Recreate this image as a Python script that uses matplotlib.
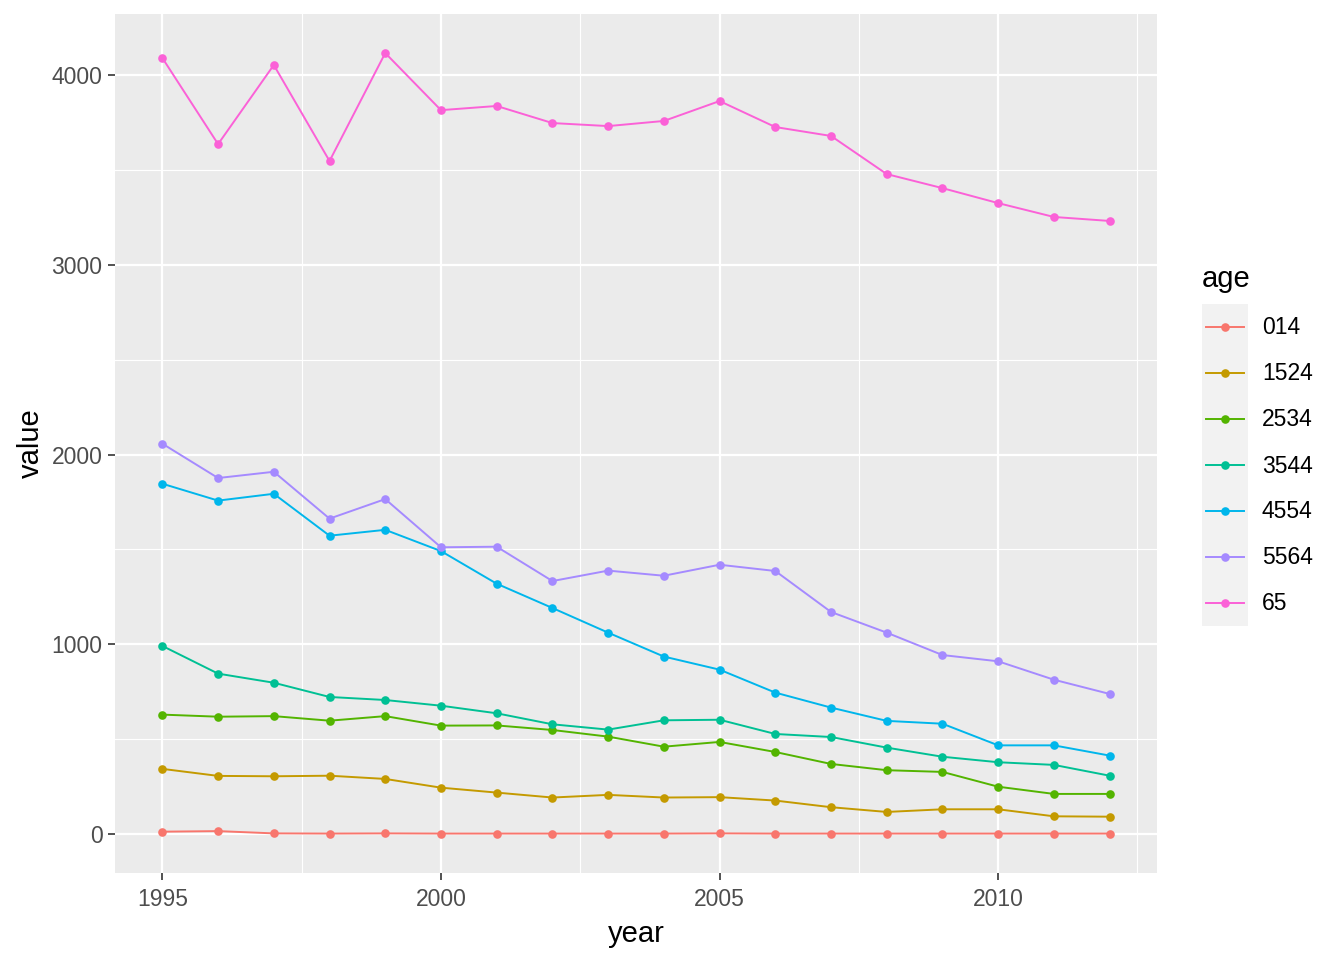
import matplotlib
matplotlib.use("Agg")
import matplotlib.pyplot as plt
from matplotlib.ticker import MultipleLocator

years = list(range(1995, 2013))
ages = ["014", "1524", "2534", "3544", "4554", "5564", "65"]
colors = ["#F8766D", "#C49A00", "#53B400", "#00C094", "#00B6EB", "#A58AFF", "#FB61D7"]

v014 = [12, 15, 3, 2, 3, 2, 2, 2, 2, 2, 3, 2, 2, 2, 2, 2, 2, 2]
v1524 = [343, 306, 304, 307, 290, 244, 218, 192, 206, 192, 194, 176, 141, 116, 130, 130, 93, 91]
v2534 = [629, 618, 621, 597, 621, 571, 572, 548, 513, 460, 485, 432, 369, 336, 327, 249, 211, 211]
v3544 = [991, 845, 797, 722, 706, 676, 636, 578, 550, 599, 602, 527, 511, 455, 407, 378, 364, 307]
v4554 = [1846, 1757, 1793, 1572, 1603, 1491, 1319, 1191, 1061, 935, 866, 745, 666, 596, 581, 467, 467, 413]
v5564 = [2057, 1876, 1909, 1662, 1765, 1511, 1514, 1333, 1388, 1361, 1419, 1386, 1170, 1061, 943, 910, 813, 738]
v65 = [4090, 3636, 4053, 3547, 4116, 3815, 3837, 3747, 3731, 3758, 3863, 3726, 3679, 3478, 3404, 3325, 3252, 3231]

series = [v014, v1524, v2534, v3544, v4554, v5564, v65]

plt.rcParams['font.family'] = ['Liberation Sans', 'DejaVu Sans']

fig = plt.figure(figsize=(13.44, 9.6), dpi=100)
ax = fig.add_axes([115/1344, (960-873)/960, (1157-115)/1344, (873-14)/960])
ax.set_facecolor("#EBEBEB")
for s in ax.spines.values():
    s.set_visible(False)

ax.set_xlim(1994.15, 2012.85)
ax.set_ylim(-205.8, 4321.8)
ax.xaxis.set_major_locator(MultipleLocator(5))
ax.xaxis.set_minor_locator(MultipleLocator(2.5))
ax.yaxis.set_major_locator(MultipleLocator(1000))
ax.yaxis.set_minor_locator(MultipleLocator(500))
ax.grid(which="major", color="white", linewidth=1.6)
ax.grid(which="minor", color="white", linewidth=0.8)
ax.set_axisbelow(True)
ax.tick_params(which="major", length=5, width=1.2, color="#333333",
               labelsize=16.5, labelcolor="#4D4D4D", pad=4)
ax.tick_params(axis="x", which="major", pad=5.5)
ax.tick_params(which="minor", length=0)

for vals, c in zip(series, colors):
    ax.plot(years, vals, color=c, linewidth=1.4, zorder=2)
for vals, c in zip(series, colors):
    ax.plot(years, vals, linestyle="none", marker="o", markersize=6.2,
            color=c, markeredgewidth=0, zorder=3)

ax.set_xlabel("year", fontsize=21, labelpad=7)
ax.set_ylabel("value", fontsize=21, labelpad=5)

# legend
lax = fig.add_axes([1202/1344, (960-626)/960, 46/1344, 322/960])
lax.set_facecolor("#F2F2F2")
for s in lax.spines.values():
    s.set_visible(False)
lax.set_xticks([])
lax.set_yticks([])
lax.set_xlim(0, 1)
lax.set_ylim(0, len(ages))
for i, (a, c) in enumerate(zip(ages, colors)):
    yc = len(ages) - 0.5 - i
    lax.plot([0.09, 0.91], [yc, yc], color=c, linewidth=1.4)
    lax.plot([0.5], [yc], marker="o", markersize=6.2, color=c, markeredgewidth=0)
    fig.text(1262/1344, (960 - (305 + 46 * (i + 0.5))) / 960, a,
             fontsize=16.5, va="center", ha="left", color="black")
fig.text(1202/1344, (960-287)/960, "age", fontsize=21, va="baseline", ha="left")

fig.savefig("out.png", dpi=100, facecolor="white")
